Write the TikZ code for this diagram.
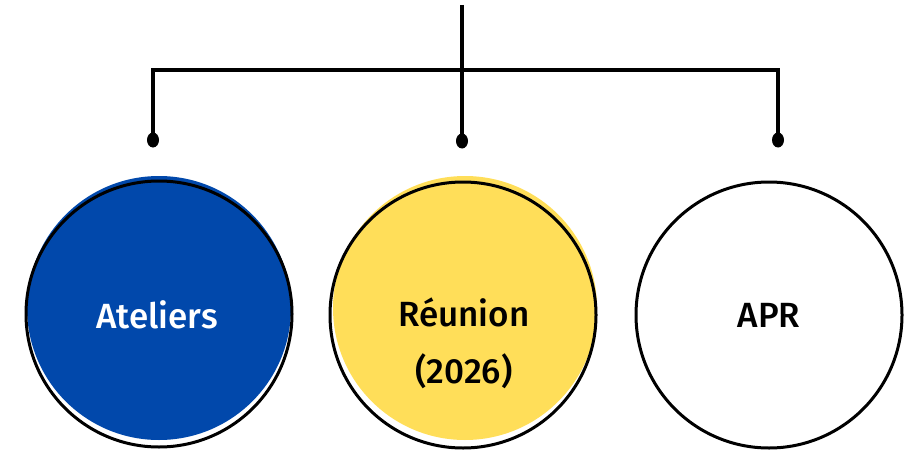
\documentclass[tikz,border=0pt]{standalone}
\usepackage{fontspec}
\setmainfont{Fira Sans}[BoldFont={Fira Sans Medium}]
\usetikzlibrary{shapes.geometric}
\definecolor{capblue}{RGB}{1,72,171}
\definecolor{capyellow}{RGB}{255,222,89}
\tikzset{
  conn/.style={line width=3.6pt, black},
  dotend/.style={ellipse, fill=black, minimum width=12pt, minimum height=15pt, inner sep=0pt},
  disc/.style={circle, minimum size=264pt, inner sep=0pt},
  ring/.style={circle, draw=black, line width=3pt, minimum size=266pt, inner sep=0pt},
  caption/.style={font=\bfseries\fontsize{35}{57}\selectfont, align=center, inner sep=0pt},
}
\begin{document}
\begin{tikzpicture}[x=1pt,y=-1pt]
  \useasboundingbox (0,0) rectangle (912,452);
  % coloured discs, set slightly above their outlines
  \node[disc, fill=capblue] (fillA) at (159,308) {};
  \node[disc, fill=capyellow] (fillB) at (465,308) {};
  % outlined circles
  \node[ring] (atel) at (159,314) {};
  \node[ring] (reun) at (463,315) {};
  \node[ring] (apr) at (769,315) {};
  % labels
  \node[caption, text=white] (atelT) at (157,315) {Ateliers};
  \node[caption] (reunT) at (464,343) {Réunion\\(2026)};
  \node[caption] (aprT) at (769,315) {APR};
  % connector tree
  \coordinate (root) at (462,5);
  \coordinate (bar) at (462,70);
  \node[dotend] (dA) at (153,140) {};
  \node[dotend] (dB) at (462,141) {};
  \node[dotend] (dC) at (778,140) {};
  \draw[conn] (root) -- (dB.center);
  \draw[conn] (dA.center) -- (dA |- bar) -- (dC |- bar) -- (dC.center);
\end{tikzpicture}
\end{document}
